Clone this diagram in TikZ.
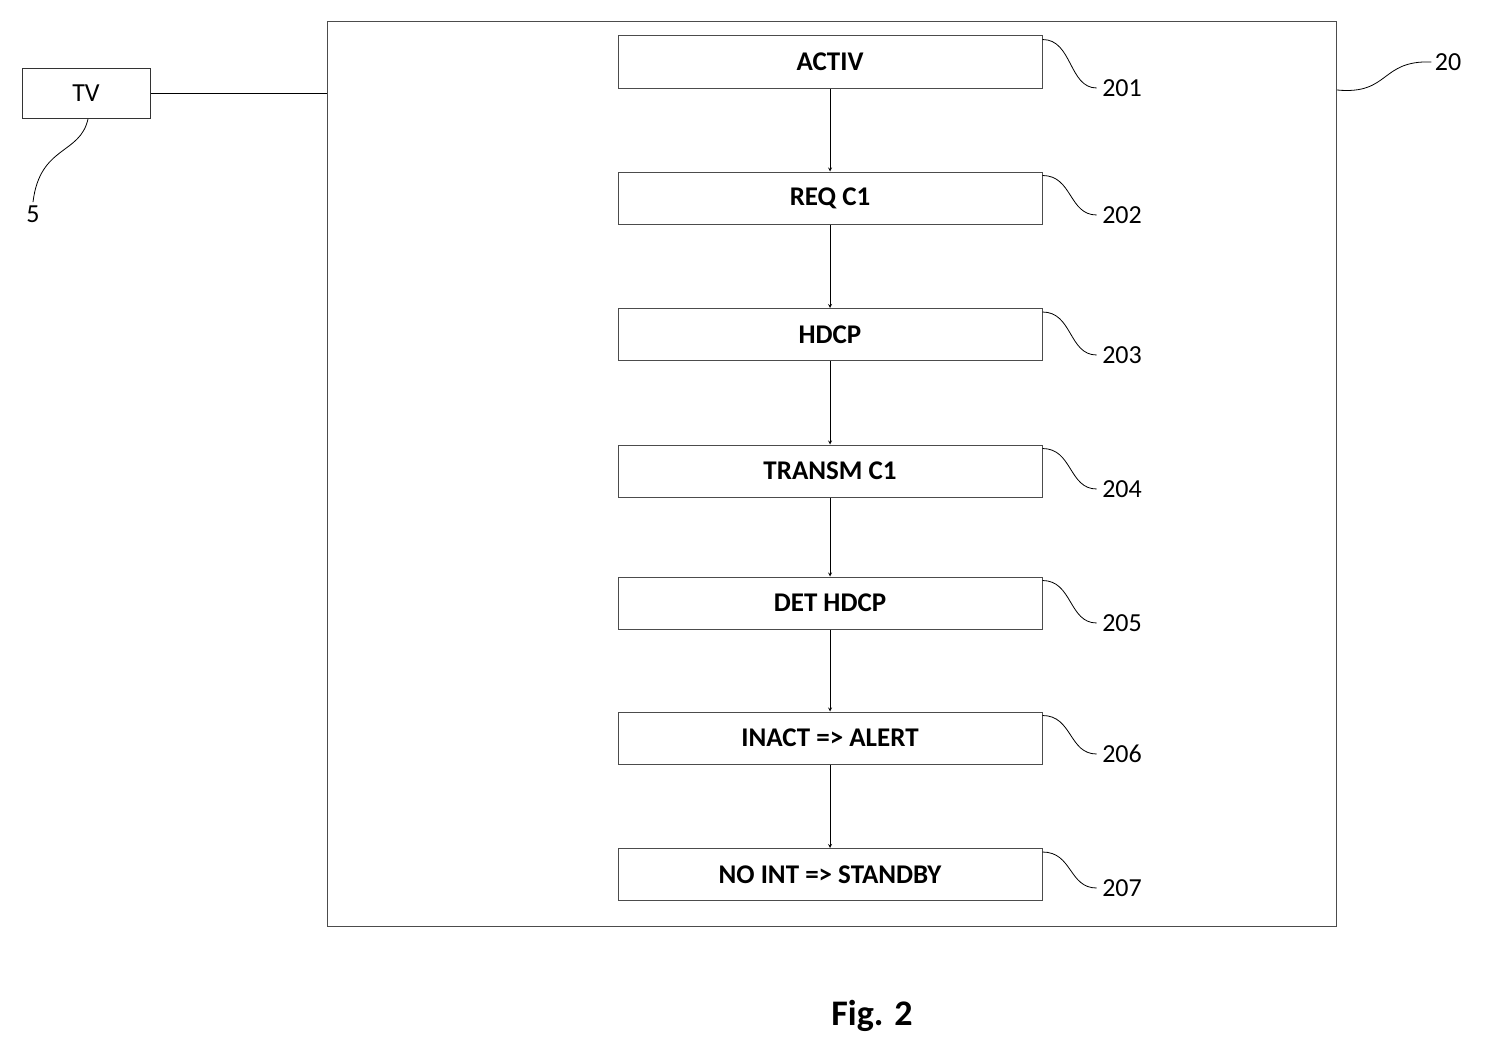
\documentclass[tikz,border=0pt]{standalone}
\usepackage{fontspec}
\setmainfont{Carlito}
\begin{document}
\begin{tikzpicture}[x=1pt,y=-1pt,
 stepbox/.style={draw=black!70,line width=1pt,minimum width=424pt,minimum height=52pt,inner sep=0pt,font=\fontsize{27}{30}\selectfont\bfseries},
 lbl/.style={font=\fontsize{26}{28}\selectfont},
 arr/.style={->,>=stealth,line width=0.8pt},
 lead/.style={line width=0.8pt}]
\useasboundingbox (0,0) rectangle (1487,1057);
\node[draw=black!70,line width=1pt,minimum width=1009pt,minimum height=904pt,inner sep=0pt] (outer) at (831.5,474) {};
\node[draw=black!80,line width=1pt,minimum width=128pt,minimum height=50pt,inner sep=0pt,font=\fontsize{26}{28}\selectfont] (tv) at (86,93) {TV};
\coordinate (oleft) at (327,93);
\draw[line width=0.8pt] (tv.east) -- (oleft);
\node[lbl] (l5) at (33,214) {5};
\draw[lead] (88,119) .. controls (80,155) and (40,145) .. (l5.north);
\node[lbl] (l20) at (1448,62) {20};
\draw[lead] (1337,90) .. controls (1390,95) and (1380,60) .. (l20.west);
\foreach \n/\y/\t in {1/62/ACTIV,2/198/REQ C1,3/334.5/HDCP,4/471/TRANSM C1,5/603/DET HDCP,6/738/INACT => ALERT,7/874.5/NO INT => STANDBY}{
  \node[stepbox] (s\n) at (830,\y) {\t};
}
\foreach \n/\y in {1/88,2/215,3/355,4/489,5/623,6/754,7/888}{
  \node[lbl] (l\n) at (1122,\y) {20\n};
  \draw[lead] ([yshift=-4pt]s\n.north east) .. controls +(30,0) and ([xshift=-30pt]l\n.west) .. ([xshift=-2pt]l\n.west);
}
\foreach \a/\b in {1/2,2/3,3/4,4/5,5/6,6/7}{\draw[arr] (s\a) -- (s\b);}
\node[font=\fontsize{36}{40}\selectfont\bfseries] (fig) at (872,1016) {Fig. 2};
\end{tikzpicture}
\end{document}
